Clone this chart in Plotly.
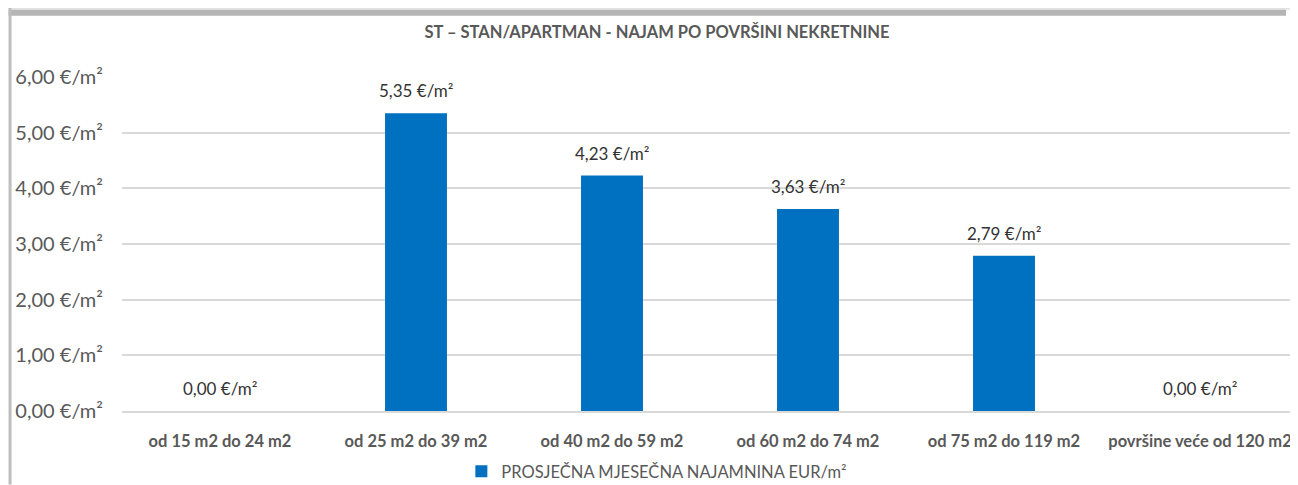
import plotly.graph_objects as go

# Chart data
categories = [
    "od 15 m2 do 24 m2",
    "od 25 m2 do 39 m2",
    "od 40 m2 do 59 m2",
    "od 60 m2 do 74 m2",
    "od 75 m2 do 119 m2",
    "površine veće od 120 m2",
]
values = [0.00, 5.35, 4.23, 3.63, 2.79, 0.00]
y_ticks = [0, 1, 2, 3, 4, 5, 6]
y_tick_labels = [f"{v:.2f}".replace(".", ",") + " €/m²" for v in y_ticks]
series_name = "PROSJEČNA MJESEČNA NAJAMNINA EUR/m²"
title = "ST – STAN/APARTMAN - NAJAM PO POVRŠINI NEKRETNINE"

_BLUE = "#0070C0"
_GREY_TXT = "#595959"
_GRID = "#d9d9d9"
_FONT = "Lato, Roboto, sans-serif"

# The page body keeps its default 8px margin, so the figure is 8px smaller
# and every position below is measured from that offset.
OFF = 8
W, H = 1298 - OFF, 485 - OFF
L, R, T = 121.5 - OFF, 0, 77.3 - OFF
B = H - (411.5 - OFF)
PW, PH = W - L - R, H - T - B


def px_x(px):
    return (px - OFF - L) / PW


def px_y(py):
    return (411.5 - py) / PH


fig = go.Figure()
fig.add_bar(
    x=categories, y=values, name=series_name, marker_color=_BLUE,
    marker_line_width=0, showlegend=True,
)

for c, v in zip(categories, values):
    fig.add_annotation(
        x=c, y=v, text=f"{v:.2f}".replace(".", ",") + " €/m²",
        showarrow=False, yanchor="bottom", yshift=10,
        font={"size": 17, "color": "#333333", "family": _FONT},
    )

# Picture-frame shadow around the chart (screen pixels)
frame = [
    (OFF, OFF, 1298, 10, "#e2e2e2"),
    (OFF, 10, 1286, 16, "#b5b5b5"),
    (OFF, OFF, 11, 485, "#bdbdbd"),
    (1294, 16, 1297, 485, "#c4c4c4"),
]
for x0, y0, x1, y1, col in frame:
    fig.add_shape(
        type="rect", xref="paper", yref="paper",
        x0=px_x(x0), x1=px_x(x1), y0=px_y(y0), y1=px_y(y1),
        fillcolor=col, line_width=0, layer="above",
    )

fig.update_layout(
    width=W, height=H,
    paper_bgcolor="white", plot_bgcolor="white",
    margin={"l": L, "r": R, "t": T, "b": B, "pad": 0, "autoexpand": False},
    font={"family": _FONT, "color": _GREY_TXT},
    bargap=0.684,
    title={
        "text": f"<b>{title}</b>", "x": 0.5 + OFF / 2 / W, "xref": "container",
        "xanchor": "center",
        "y": 1 - (32 - OFF) / H, "yref": "container", "yanchor": "middle",
        "font": {"size": 16.5, "color": _GREY_TXT, "family": _FONT},
    },
    legend={
        "orientation": "h", "x": px_x(461), "xanchor": "left",
        "y": px_y(472), "yanchor": "middle",
        "font": {"size": 16.5, "color": _GREY_TXT, "family": _FONT},
        "bgcolor": "rgba(0,0,0,0)",
    },
)
fig.update_xaxes(
    showgrid=False, showline=True, linecolor=_GRID, linewidth=2,
    ticks="", ticklabelstandoff=14, tickangle=0, automargin=False,
    tickfont={"size": 16.5, "color": _GREY_TXT, "family": _FONT},
    tickprefix="<b>", ticksuffix="</b>",
)
fig.update_yaxes(
    range=[0, 6], tickvals=y_ticks, ticktext=y_tick_labels,
    showgrid=True, gridcolor=_GRID, gridwidth=2, zeroline=False,
    showline=False, ticks="", ticklabelstandoff=18, automargin=False,
    tickfont={"size": 20, "color": _GREY_TXT, "family": _FONT},
)

fig.write_html("out.html")
